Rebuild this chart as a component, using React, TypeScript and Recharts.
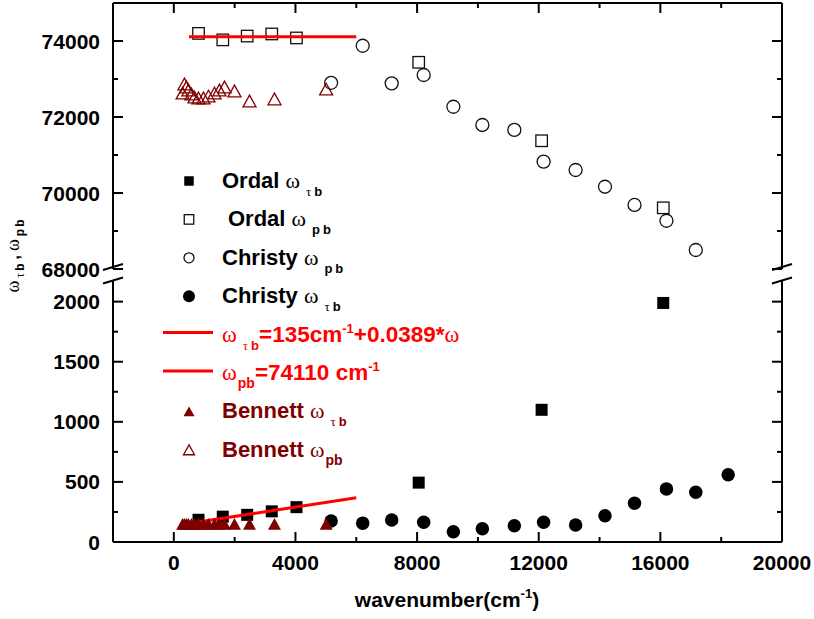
import React from 'react';
import { ScatterChart, Scatter, XAxis, YAxis, Legend } from 'recharts';

const W = 814;
const H = 619;
const SANS = '"Liberation Sans", Arial, Helvetica, sans-serif';
const SERIF = '"Liberation Serif", "Times New Roman", Times, serif';
const BLACK = '#000000';
const RED = '#ff0000';
const MAROON = '#800000';

// Axes
const xDomain = [-2000, 20000];
const xTicks = [0, 2000, 4000, 6000, 8000, 10000, 12000, 14000, 16000, 18000, 20000];
const upperDomain = [68000, 75000];
const upperTicks = [68000, 69000, 70000, 71000, 72000, 73000, 74000];
const lowerDomain = [0, 2180];
const lowerTicks = [0, 250, 500, 750, 1000, 1250, 1500, 1750, 2000];

// Ordal
const ordalWavenumber = [812, 1610, 2413, 3221, 4033, 8053, 12095, 16095];
const ordalOmegaPb = [74200, 74030, 74130, 74185, 74080, 73440, 71375, 69610];
const ordalOmegaTb = [185, 211, 226, 255, 290, 494, 1100, 1989];

// Christy
const christyWavenumber = [5173, 6212, 7165, 8217, 9193, 10146, 11198, 12161, 13213, 14179, 15150, 16200, 17165, 18230];
const christyOmegaPb = [72900, 73875, 72885, 73105, 72270, 71790, 71660, 70825, 70605, 70165, 69685, 69270, 68500];
const christyOmegaTb = [175, 157, 183, 164, 86, 111, 136, 164, 142, 219, 322, 442, 414, 560];

// Bennett
const bennettWavenumber = [290, 350, 415, 480, 580, 680, 810, 975, 1140, 1340, 1500, 1667, 1995, 2490, 3310, 5010];
const bennettOmegaPb = [72630, 72870, 72790, 72710, 72605, 72525, 72500, 72500, 72550, 72630, 72710, 72790, 72685, 72420, 72475, 72735];
const bennettOmegaTb = [150, 152, 150, 151, 150, 149, 150, 150, 151, 150, 150, 151, 150, 150, 150, 150];

// Fits: w_tb = 135 + 0.0389*w ; w_pb = 74110
const fitWavenumber = [500, 6000];
const fitOmegaTb = [154.5, 368.4];
const fitOmegaPb = [74110, 74110];

const toPoints = (xs: number[], ys: number[]) => ys.map((y, i) => ({ x: xs[i], y }));

const ordalPb = toPoints(ordalWavenumber, ordalOmegaPb);
const ordalTb = toPoints(ordalWavenumber, ordalOmegaTb);
const christyPb = toPoints(christyWavenumber, christyOmegaPb);
const christyTb = toPoints(christyWavenumber, christyOmegaTb);
const bennettPb = toPoints(bennettWavenumber, bennettOmegaPb);
const bennettTb = toPoints(bennettWavenumber, bennettOmegaTb);
const fitPb = toPoints(fitWavenumber, fitOmegaPb);
const fitTb = toPoints(fitWavenumber, fitOmegaTb);

// ---- marker shapes ----
type M = { cx: number; cy: number; size?: number; color?: string };
const FilledSquare = ({ cx, cy, size = 12, color = BLACK }: M) => (
  <rect x={cx - size / 2} y={cy - size / 2} width={size} height={size} fill={color} />
);
const OpenSquare = ({ cx, cy, size = 11.5, color = '#111' }: M) => (
  <rect x={cx - size / 2} y={cy - size / 2} width={size} height={size} fill="none" stroke={color} strokeWidth={1.3} />
);
const OpenCircle = ({ cx, cy, size = 13, color = '#111' }: M) => (
  <circle cx={cx} cy={cy} r={size / 2} fill="none" stroke={color} strokeWidth={1.3} />
);
const FilledCircle = ({ cx, cy, size = 13.5, color = BLACK }: M) => (
  <circle cx={cx} cy={cy} r={size / 2} fill={color} />
);
const triPath = (cx: number, cy: number, w: number) => {
  const h = w * 0.9;
  return `M${cx},${cy - h / 2} L${cx + w / 2},${cy + h / 2} L${cx - w / 2},${cy + h / 2} Z`;
};
const FilledTriangle = ({ cx, cy, size = 13, color = MAROON }: M) => <path d={triPath(cx, cy, size)} fill={color} />;
const OpenTriangle = ({ cx, cy, size = 13, color = MAROON }: M) => (
  <path d={triPath(cx, cy, size)} fill="none" stroke={color} strokeWidth={1.3} />
);
const NoMark = () => <g />;

// ---- inward ticks ----
const tickFont = { fontFamily: SANS, fontWeight: 700, fontSize: 21, fill: BLACK };

const leftTick = (majorStep: number) => (p: any) => {
  const v = p.payload.value;
  const major = v % majorStep === 0;
  return (
    <g>
      <line x1={p.x} y1={p.y} x2={p.x + (major ? 10 : 5)} y2={p.y} stroke={BLACK} strokeWidth={2} />
      {major && (
        <text x={p.x - 13} y={p.y} dy="0.36em" textAnchor="end" {...tickFont}>
          {String(v)}
        </text>
      )}
    </g>
  );
};
const rightTick = (majorStep: number) => (p: any) => {
  const major = p.payload.value % majorStep === 0;
  return <line x1={p.x} y1={p.y} x2={p.x - (major ? 10 : 5)} y2={p.y} stroke={BLACK} strokeWidth={2} />;
};
const topTick = (p: any) => {
  const major = p.payload.value % 4000 === 0;
  return <line x1={p.x} y1={p.y} x2={p.x} y2={p.y + (major ? 10 : 5)} stroke={BLACK} strokeWidth={2} />;
};
const bottomTick = (p: any) => {
  const v = p.payload.value;
  const major = v % 4000 === 0;
  return (
    <g>
      <line x1={p.x} y1={p.y} x2={p.x} y2={p.y - (major ? 10 : 5)} stroke={BLACK} strokeWidth={2} />
      {major && (
        <text x={p.x} y={p.y + 28} textAnchor="middle" {...tickFont}>
          {String(v)}
        </text>
      )}
    </g>
  );
};

const axisLine = { stroke: BLACK, strokeWidth: 2 };

// ---- titles ----
const XTitle = () => (
  <text x={447} y={607} textAnchor="middle" fontFamily={SANS} fontWeight={700} fontSize={21} fill={BLACK}>
    wavenumber(cm
    <tspan fontSize={13} dy={-9}>-1</tspan>
    <tspan dy={9}>)</tspan>
  </text>
);

const YTitle = () => (
  <text
    transform="translate(19,256) rotate(-90)"
    textAnchor="middle"
    fontFamily={SANS}
    fontWeight={700}
    fontSize={12}
    fill={BLACK}
  >
    <tspan fontFamily={SERIF} fontWeight={400} fontSize={18}>ω</tspan>
    <tspan dx={3} dy={5} fontFamily={SERIF} fontWeight={400}>τ</tspan>
    <tspan dx={2}>b</tspan>
    <tspan dx={4} dy={-5} fontSize={16}>,</tspan>
    <tspan dx={4} fontFamily={SERIF} fontWeight={400} fontSize={18}>ω</tspan>
    <tspan dx={3} dy={5}>p</tspan>
    <tspan dx={2}>b</tspan>
  </text>
);

// ---- legend ----
const LX = 189;
const TX = 222;
const rowY = (i: number) => 181 + 38.4 * i;
const legFont = { fontFamily: SANS, fontWeight: 700, fontSize: 22 };
const omega = { fontFamily: SERIF, fontWeight: 400 };

const Sub = ({ a, b, color }: { a: string; b: string; color: string }) => (
  <>
    <tspan dx={6} dy={8} fontSize={13} {...(a === 'τ' ? omega : {})} fill={color}>{a}</tspan>
    <tspan dx={b ? 3 : 0} fontSize={13} fill={color}>{b}</tspan>
  </>
);

const LegendBox = () => (
  <svg width={W} height={H} style={{ position: 'absolute', left: 0, top: 0, overflow: 'visible' }}>
    <FilledSquare cx={LX} cy={rowY(0)} size={9.5} />
    <text x={TX} y={rowY(0) + 7} {...legFont} fill={BLACK}>
      {'Ordal '}<tspan {...omega}>ω</tspan>
      <Sub a="τ" b="b" color={BLACK} />
    </text>

    <OpenSquare cx={LX} cy={rowY(1)} size={9.5} />
    <text x={TX + 6} y={rowY(1) + 7} {...legFont} fill={BLACK}>
      {'Ordal '}<tspan {...omega}>ω</tspan>
      <Sub a="p" b="b" color={BLACK} />
    </text>

    <OpenCircle cx={LX} cy={rowY(2)} size={10} />
    <text x={TX} y={rowY(2) + 7} {...legFont} fill={BLACK}>
      {'Christy '}<tspan {...omega}>ω</tspan>
      <Sub a="p" b="b" color={BLACK} />
    </text>

    <FilledCircle cx={LX} cy={rowY(3)} size={12} />
    <text x={TX} y={rowY(3) + 7} {...legFont} fill={BLACK}>
      {'Christy '}<tspan {...omega}>ω</tspan>
      <Sub a="τ" b="b" color={BLACK} />
    </text>

    <line x1={163} y1={rowY(4) - 2} x2={213} y2={rowY(4) - 2} stroke={RED} strokeWidth={3} />
    <text x={TX} y={rowY(4) + 7} {...legFont} fontSize={22.5} fill={RED}>
      <tspan {...omega}>ω</tspan>
      <Sub a="τ" b="b" color={RED} />
      <tspan dy={-8}>=135cm</tspan>
      <tspan fontSize={13} dy={-9}>-1</tspan>
      <tspan dy={9}>+0.0389*</tspan>
      <tspan {...omega}>ω</tspan>
    </text>

    <line x1={163} y1={rowY(5) - 2} x2={213} y2={rowY(5) - 2} stroke={RED} strokeWidth={3} />
    <text x={TX} y={rowY(5) + 7} {...legFont} fontSize={22.5} fill={RED}>
      <tspan {...omega}>ω</tspan>
      <tspan dx={1} dy={8} fontSize={14}>pb</tspan>
      <tspan dy={-8}>=74110 cm</tspan>
      <tspan fontSize={13} dy={-9}>-1</tspan>
    </text>

    <FilledTriangle cx={LX} cy={rowY(6)} size={11} />
    <text x={TX} y={rowY(6) + 7} {...legFont} fill={MAROON}>
      {'Bennett '}<tspan {...omega}>ω</tspan>
      <Sub a="τ" b="b" color={MAROON} />
    </text>

    <OpenTriangle cx={LX} cy={rowY(7)} size={11} />
    <text x={TX} y={rowY(7) + 7} {...legFont} fill={MAROON}>
      {'Bennett '}<tspan {...omega}>ω</tspan>
      <tspan dx={1} dy={8} fontSize={14}>pb</tspan>
    </text>
  </svg>
);

// ---- axis break marks ----
const BreakMarks = () => (
  <svg width={W} height={H} style={{ position: 'absolute', left: 0, top: 0, pointerEvents: 'none' }}>
    {[113, 782].map((x) => (
      <g key={x} stroke={BLACK} strokeWidth={2}>
        <line x1={x - 10} y1={270} x2={x + 10} y2={264} />
        <line x1={x - 10} y1={283.5} x2={x + 10} y2={277.5} />
      </g>
    ))}
  </svg>
);

const chartStyle: React.CSSProperties = { position: 'absolute', left: 0, top: 0 };

export default function App() {
  return (
    <div style={{ position: 'absolute', left: 0, top: 0, width: W, height: H, background: '#fff' }}>
      {/* upper panel: plasma frequency */}
      <div style={chartStyle}>
        <ScatterChart width={W} height={H} margin={{ top: 2, right: 31, bottom: H - 269, left: 0 }}>
          <XAxis
            type="number"
            dataKey="x"
            orientation="top"
            height={1}
            domain={xDomain}
            ticks={xTicks}
            interval={0}
            allowDataOverflow
            axisLine={axisLine}
            tickLine={false}
            tickSize={0}
            tickMargin={0}
            tick={topTick}
          />
          <YAxis
            type="number"
            dataKey="y"
            width={113}
            domain={upperDomain}
            ticks={upperTicks}
            interval={0}
            allowDataOverflow
            axisLine={axisLine}
            tickLine={false}
            tickSize={0}
            tickMargin={0}
            tick={leftTick(2000)}
          />
          <YAxis
            yAxisId="r"
            type="number"
            orientation="right"
            width={1}
            domain={upperDomain}
            ticks={upperTicks}
            interval={0}
            allowDataOverflow
            axisLine={axisLine}
            tickLine={false}
            tickSize={0}
            tickMargin={0}
            tick={rightTick(2000)}
          />
          <Scatter data={ordalPb} isAnimationActive={false} shape={(p: any) => <OpenSquare cx={p.cx} cy={p.cy} />} />
          <Scatter data={christyPb} isAnimationActive={false} shape={(p: any) => <OpenCircle cx={p.cx} cy={p.cy} />} />
          <Scatter data={fitPb} isAnimationActive={false} line={{ stroke: RED, strokeWidth: 3 }} shape={NoMark} />
          <Scatter data={bennettPb} isAnimationActive={false} shape={(p: any) => <OpenTriangle cx={p.cx} cy={p.cy} />} />
          <Legend
            layout="vertical"
            align="center"
            verticalAlign="middle"
            wrapperStyle={{ position: 'absolute', left: 0, top: 0, width: W, height: H, pointerEvents: 'none' }}
            content={() => <LegendBox />}
          />
        </ScatterChart>
      </div>

      {/* lower panel: damping frequency */}
      <div style={chartStyle}>
        <ScatterChart width={W} height={H} margin={{ top: 280, right: 31, bottom: 0, left: 0 }}>
          <XAxis
            type="number"
            dataKey="x"
            orientation="bottom"
            height={77}
            domain={xDomain}
            ticks={xTicks}
            interval={0}
            allowDataOverflow
            axisLine={axisLine}
            tickLine={false}
            tickSize={0}
            tickMargin={0}
            tick={bottomTick}
            label={<XTitle />}
          />
          <YAxis
            type="number"
            dataKey="y"
            width={113}
            domain={lowerDomain}
            ticks={lowerTicks}
            interval={0}
            allowDataOverflow
            axisLine={axisLine}
            tickLine={false}
            tickSize={0}
            tickMargin={0}
            tick={leftTick(500)}
            label={<YTitle />}
          />
          <YAxis
            yAxisId="r"
            type="number"
            orientation="right"
            width={1}
            domain={lowerDomain}
            ticks={lowerTicks}
            interval={0}
            allowDataOverflow
            axisLine={axisLine}
            tickLine={false}
            tickSize={0}
            tickMargin={0}
            tick={rightTick(500)}
          />
          <Scatter data={ordalTb} isAnimationActive={false} shape={(p: any) => <FilledSquare cx={p.cx} cy={p.cy} />} />
          <Scatter data={christyTb} isAnimationActive={false} shape={(p: any) => <FilledCircle cx={p.cx} cy={p.cy} />} />
          <Scatter data={fitTb} isAnimationActive={false} line={{ stroke: RED, strokeWidth: 3 }} shape={NoMark} />
          <Scatter data={bennettTb} isAnimationActive={false} shape={(p: any) => <FilledTriangle cx={p.cx} cy={p.cy} />} />
        </ScatterChart>
      </div>

      <BreakMarks />
    </div>
  );
}
